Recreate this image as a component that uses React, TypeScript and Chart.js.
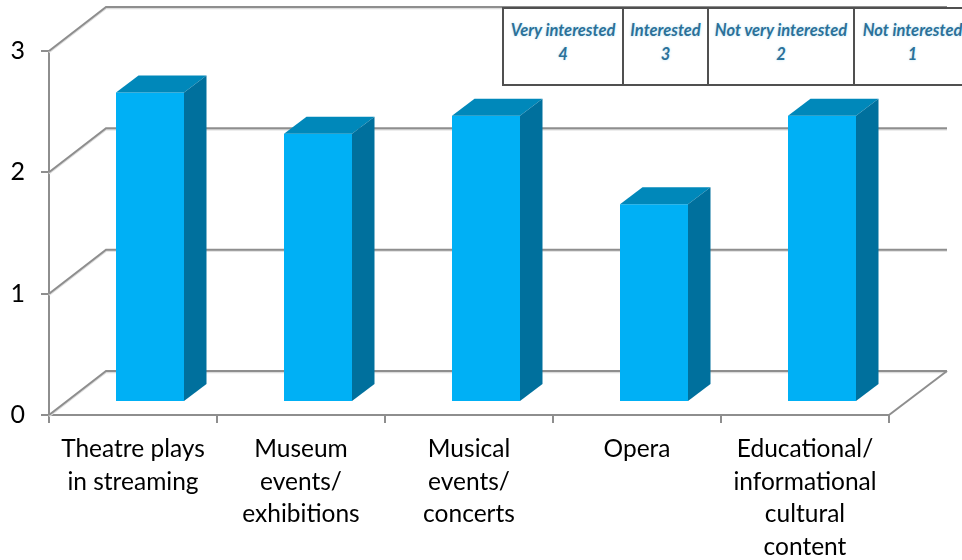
import React, { useEffect, useRef } from "react";
import { Chart, registerables } from "chart.js";

Chart.register(...registerables);

const categories = [
  ["Theatre plays", "in streaming"],
  ["Museum", "events/", "exhibitions"],
  ["Musical", "events/", "concerts"],
  ["Opera"],
  ["Educational/", "informational", "cultural", "content"],
];
const meanScores = [2.55, 2.21, 2.36, 1.63, 2.36];
const scaleHeaders = ["Very interested", "Interested", "Not very interested", "Not interested"];
const scaleValues = [4, 3, 2, 1];
const scaleColumnWidths = [120, 85, 146, 116];

const AXIS_GREY = "#8e8e8e";
const FRONT = "#00b0f5";
const TOP = "#0088ba";
const SIDE = "#00709d";
const LABEL_FONT = "Lato, 'Open Sans', sans-serif";

// Pseudo-3D projection of the plot box and of the bars standing inside it
const WALL_DX = 57;
const WALL_DY = 44;
const BAR_SHIFT_X = 17;
const BAR_SHIFT_Y = 13;
const BAR_DX = 22.5;
const BAR_DY = 17;

const polygon = (ctx: CanvasRenderingContext2D, pts: number[][], fill: string) => {
  ctx.beginPath();
  pts.forEach(([x, y], i) => (i ? ctx.lineTo(x, y) : ctx.moveTo(x, y)));
  ctx.closePath();
  ctx.fillStyle = fill;
  ctx.fill();
};

const boxPlugin = {
  id: "box3d",
  beforeDatasetsDraw(chart: any) {
    const { ctx, scales } = chart;
    const { x, y } = scales;
    const left = x.left;
    const right = x.right;
    ctx.save();
    ctx.lineJoin = "miter";
    y.ticks.forEach((t: any) => {
      const py = y.getPixelForValue(t.value);
      const path = () => {
        ctx.beginPath();
        ctx.moveTo(left, py);
        ctx.lineTo(left + WALL_DX, py - WALL_DY);
        ctx.lineTo(right + WALL_DX + 1, py - WALL_DY);
      };
      ctx.strokeStyle = "#dcdcdc";
      ctx.lineWidth = 2;
      ctx.save();
      ctx.translate(0, 1.2);
      path();
      ctx.stroke();
      ctx.restore();
      ctx.strokeStyle = AXIS_GREY;
      ctx.lineWidth = 2;
      path();
      ctx.stroke();
    });
    // right-hand edge of the floor
    const py0 = y.getPixelForValue(0);
    ctx.beginPath();
    ctx.moveTo(right, py0);
    ctx.lineTo(right + WALL_DX + 1, py0 - WALL_DY);
    ctx.stroke();
    ctx.restore();
    // bars stand slightly forward of the axis plane
    ctx.save();
    ctx.translate(BAR_SHIFT_X, -BAR_SHIFT_Y);
  },
  afterDatasetsDraw(chart: any) {
    const { ctx } = chart;
    chart.getDatasetMeta(0).data.forEach((bar: any) => {
      const { x, y, base, width } = bar.getProps(["x", "y", "base", "width"], true);
      const l = x - width / 2;
      const r = x + width / 2;
      polygon(ctx, [[l, y], [r, y], [r + BAR_DX, y - BAR_DY], [l + BAR_DX, y - BAR_DY]], TOP);
      polygon(ctx, [[r, y], [r + BAR_DX, y - BAR_DY], [r + BAR_DX, base - BAR_DY], [r, base]], SIDE);
    });
    ctx.restore();
  },
};

export default function App() {
  const ref = useRef<HTMLCanvasElement>(null);

  useEffect(() => {
    const chart = new Chart(ref.current!, {
      type: "bar",
      data: {
        labels: categories as any,
        datasets: [
          {
            data: meanScores,
            backgroundColor: FRONT,
            borderWidth: 0,
            categoryPercentage: 1,
            barPercentage: 68 / 168,
          },
        ],
      },
      plugins: [boxPlugin],
      options: {
        responsive: false,
        animation: false,
        layout: { padding: { top: 51, right: 73, left: 0, bottom: 0 } },
        plugins: { legend: { display: false }, tooltip: { enabled: false } },
        scales: {
          x: {
            afterFit: (s: any) => {
              s.height = 145;
            },
            grid: { drawOnChartArea: false, color: AXIS_GREY, lineWidth: 2, tickLength: 8 },
            border: { color: AXIS_GREY, width: 2 },
            ticks: {
              autoSkip: false,
              maxRotation: 0,
              padding: 10,
              color: "#000",
              font: { family: LABEL_FONT, size: 24.5, lineHeight: 1.33 },
            },
          },
          y: {
            min: 0,
            max: 3,
            afterFit: (s: any) => {
              s.width = 49;
            },
            grid: { drawOnChartArea: false, color: AXIS_GREY, lineWidth: 2, tickLength: 8 },
            border: { color: AXIS_GREY, width: 2 },
            ticks: {
              stepSize: 1,
              padding: 16,
              color: "#000",
              font: { family: LABEL_FONT, size: 25 },
            },
          },
        },
      },
    });
    return () => chart.destroy();
  }, []);

  const cell: React.CSSProperties = {
    border: "2px solid #505050",
    padding: "9px 0 0",
    verticalAlign: "top",
    textAlign: "center",
    whiteSpace: "nowrap",
    font: `italic 700 16.5px/24px ${LABEL_FONT}`,
    color: "#2b7199",
    textShadow: "0 0 3px #bfe3f2",
  };

  return (
    <div style={{ position: "fixed", left: 0, top: 0, width: 962, height: 560, overflow: "hidden", background: "#fff" }}>
      <canvas ref={ref} width={962} height={560} style={{ display: "block" }} />
      <table
        style={{
          position: "absolute",
          left: 502,
          top: 7,
          width: 467,
          height: 79,
          tableLayout: "fixed",
          borderCollapse: "collapse",
          background: "#fff",
        }}
      >
        <colgroup>
          {scaleColumnWidths.map((w, i) => (
            <col key={i} style={{ width: w }} />
          ))}
        </colgroup>
        <tbody>
          <tr>
            {scaleHeaders.map((h, i) => (
              <td key={h} style={i === scaleHeaders.length - 1 ? { ...cell, borderRight: "none" } : cell}>
                {h}
                <br />
                {scaleValues[i]}
              </td>
            ))}
          </tr>
        </tbody>
      </table>
    </div>
  );
}
